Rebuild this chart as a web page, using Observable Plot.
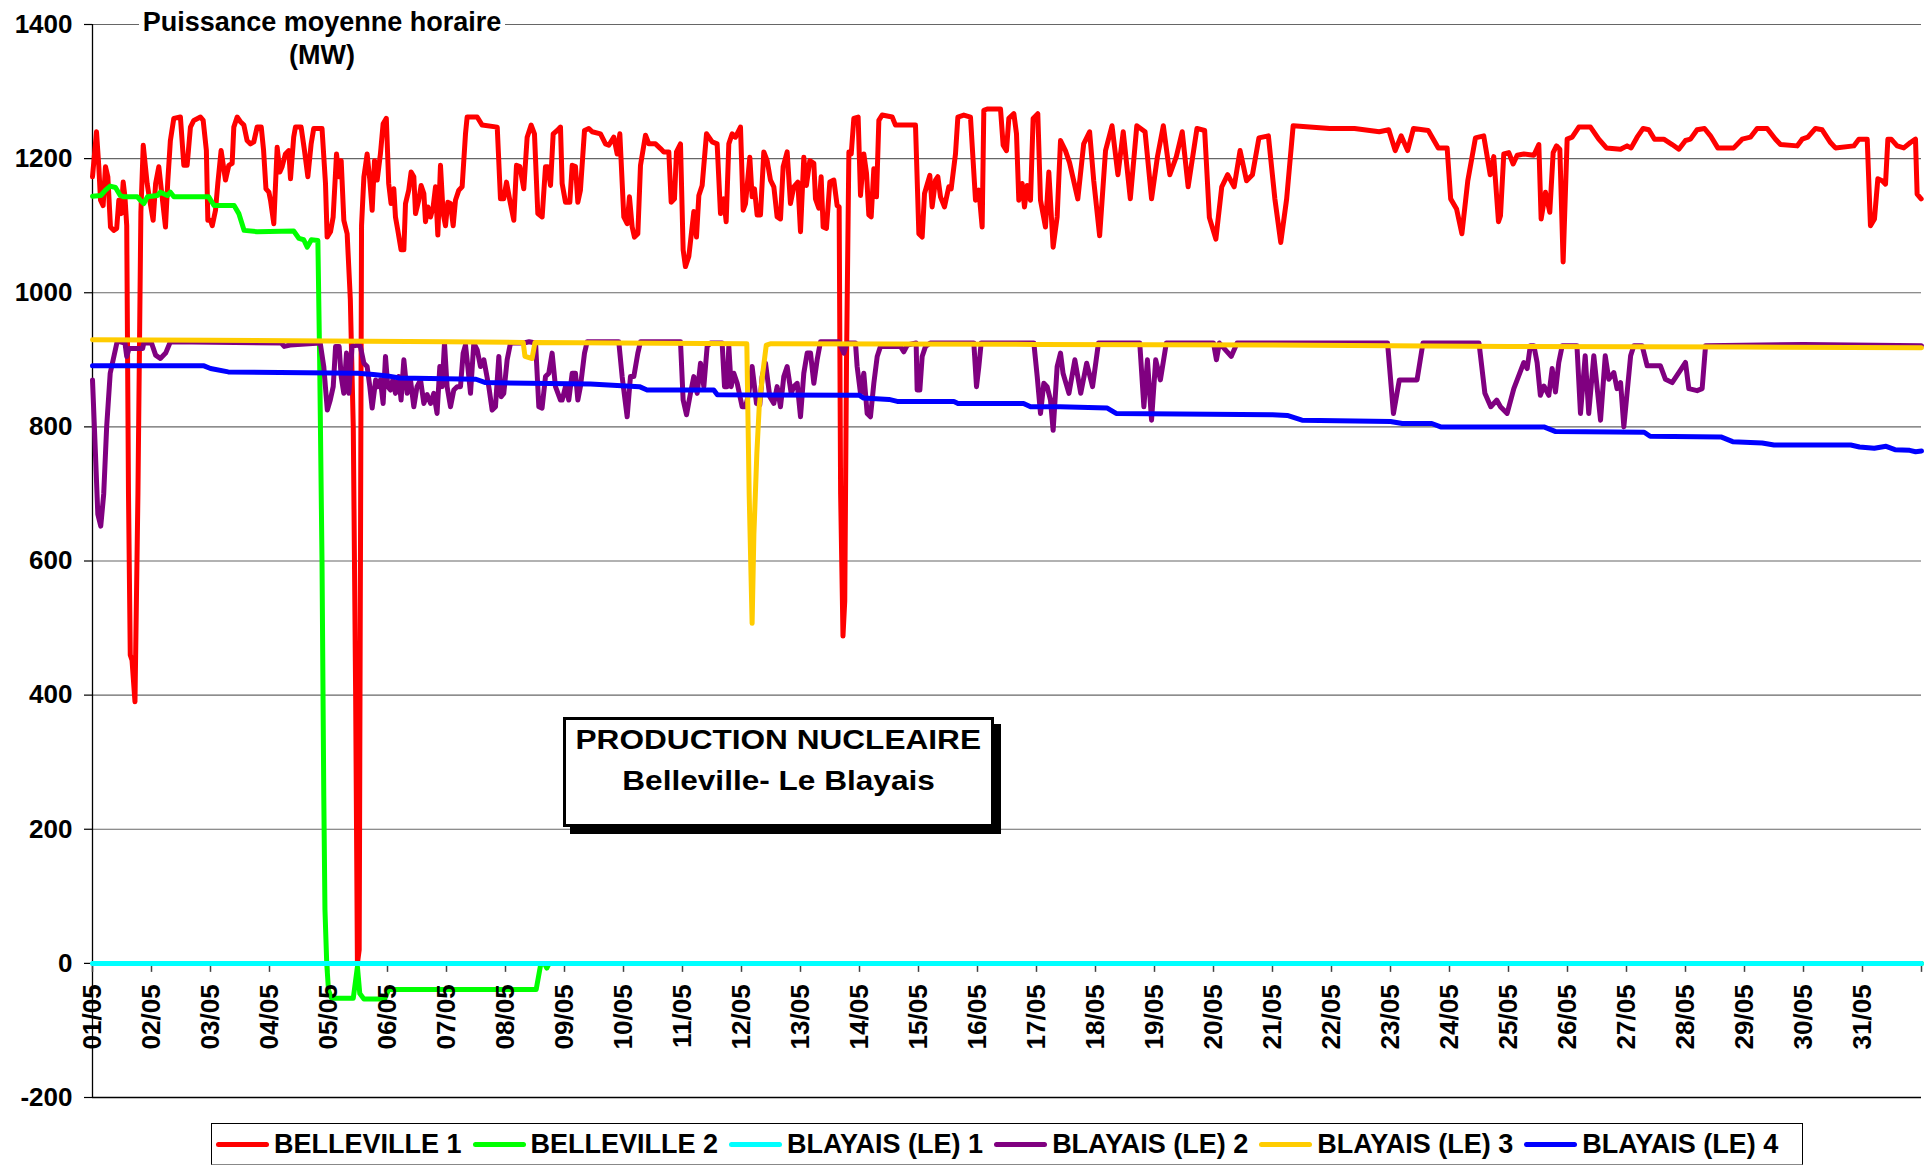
<!DOCTYPE html>
<html>
<head>
<meta charset="utf-8">
<script src="https://cdn.jsdelivr.net/npm/d3@7"></script>
<script src="https://cdn.jsdelivr.net/npm/@observablehq/plot@0.6"></script>
<style>
  body { margin: 0; background: #fff; font-family: "Liberation Sans", Arial, sans-serif; }
  #wrap { position: relative; width: 1930px; height: 1165px; overflow: hidden; }
  #title { position: absolute; left: 139px; top: 6px; width: 366px; text-align: center; background: #fff;
           font-weight: bold; font-size: 27px; line-height: 33px; color: #000; }
  #box { position: absolute; left: 563px; top: 717px; width: 431px; height: 110px; box-sizing: border-box;
         border: 3px solid #000; background: #fff; box-shadow: 7px 7px 0 #000; text-align: center;
         font-weight: bold; font-size: 27px; line-height: 41px; color: #000; }
  #box span { display: inline-block; transform: scaleX(1.17); }
  #legend { position: absolute; left: 211px; top: 1123px; width: 1592px; height: 42px; box-sizing: border-box;
            border: 1.5px solid #000; border-bottom-color: #888; background: #fff; display: flex; align-items: center;
            padding-left: 4px; gap: 11px; }
  .item { display: flex; align-items: center; font-weight: bold; font-size: 27px; color: #000; white-space: nowrap; }
  .sw { width: 53px; height: 5px; border-radius: 3px; margin-right: 5px; }
</style>
</head>
<body>
<div id="wrap">
  <div id="chart"></div>
  <div id="title">Puissance moyenne horaire<br>(MW)</div>
  <div id="box"><span>PRODUCTION NUCLEAIRE</span><br><span>Belleville- Le Blayais</span></div>
  <div id="legend"></div>
</div>
<script>
// ---- tick labels ----
const dayLabels = ["01/05","02/05","03/05","04/05","05/05","06/05","07/05","08/05","09/05","10/05",
  "11/05","12/05","13/05","14/05","15/05","16/05","17/05","18/05","19/05","20/05",
  "21/05","22/05","23/05","24/05","25/05","26/05","27/05","28/05","29/05","30/05","31/05"];
const dayTicks = [0,1,2,3,4,5,6,7,8,9,10,11,12,13,14,15,16,17,18,19,20,21,22,23,24,25,26,27,28,29,30,31];
const yTicks = [-200,0,200,400,600,800,1000,1200,1400];
const gridValues = [200,400,600,800,1000,1200,1400];

// ---- series names and colours ----
const seriesNames = ["BELLEVILLE 1","BELLEVILLE 2","BLAYAIS (LE) 1","BLAYAIS (LE) 2","BLAYAIS (LE) 3","BLAYAIS (LE) 4"];
const seriesColors = ["#ff0000","#00ff00","#00ffff","#800080","#ffcc00","#0000ff"];

// ---- series values: [day since 01/05 00:00, MW] ----
const belleville1 = [
[0,1173],[0.068,1240],[0.107,1188],[0.136,1138],[0.18,1130],[0.22,1188],[0.26,1173],[0.305,1098],[0.36,1093],[0.41,1096],
[0.446,1138],[0.486,1118],[0.52,1165],[0.55,1143],[0.58,1100],[0.61,700],[0.64,460],[0.67,452],[0.72,390],[0.77,700],[0.82,1120],[0.86,1220],
[0.926,1163],[0.97,1138],[1.028,1108],[1.07,1163],[1.124,1188],[1.18,1143],[1.237,1098],[1.277,1168],[1.32,1227],[1.378,1260],
[1.49,1262],[1.548,1190],[1.604,1190],[1.66,1247],[1.717,1257],[1.83,1262],[1.876,1257],[1.93,1212],[1.955,1108],[2.0,1108],
[2.03,1100],[2.085,1123],[2.124,1163],[2.18,1212],[2.254,1168],[2.31,1190],[2.367,1193],[2.395,1247],[2.452,1262],[2.508,1255],
[2.565,1250],[2.62,1227],[2.678,1222],[2.734,1225],[2.79,1247],[2.86,1247],[2.9,1212],[2.94,1155],[2.99,1150],[3.017,1138],
[3.073,1103],[3.13,1217],[3.175,1180],[3.214,1188],[3.27,1207],[3.327,1212],[3.356,1170],[3.41,1232],[3.44,1247],[3.536,1247],
[3.593,1212],[3.65,1173],[3.706,1222],[3.75,1245],[3.89,1245],[3.949,1163],[3.977,1083],[4.034,1091],[4.079,1113],[4.136,1207],
[4.175,1173],[4.215,1197],[4.26,1108],[4.316,1088],[4.37,990],[4.42,800],[4.46,400],[4.49,0],[4.52,20],[4.56,1100],[4.6,1173],
[4.655,1207],[4.7,1168],[4.74,1123],[4.78,1197],[4.825,1168],[4.88,1207],[4.926,1252],[4.98,1260],[5.02,1163],[5.06,1133],
[5.107,1155],[5.135,1113],[5.175,1093],[5.23,1064],[5.277,1064],[5.305,1133],[5.36,1153],[5.4,1180],[5.446,1173],[5.475,1118],
[5.53,1138],[5.57,1160],[5.616,1148],[5.644,1106],[5.684,1128],[5.73,1113],[5.774,1128],[5.814,1158],[5.853,1086],[5.898,1190],
[5.943,1118],[5.983,1100],[6.022,1135],[6.067,1133],[6.113,1100],[6.152,1138],[6.209,1153],[6.265,1158],[6.322,1237],[6.35,1262],
[6.52,1262],[6.604,1250],[6.86,1247],[6.915,1140],[6.97,1140],[7.017,1165],[7.073,1138],[7.141,1108],[7.186,1190],[7.243,1188],
[7.31,1155],[7.367,1232],[7.435,1250],[7.491,1237],[7.548,1118],[7.621,1113],[7.678,1188],[7.717,1188],[7.763,1160],[7.808,1237],
[7.876,1242],[7.932,1247],[7.96,1163],[8.017,1135],[8.09,1135],[8.13,1190],[8.186,1188],[8.226,1135],[8.27,1153],[8.339,1242],
[8.412,1245],[8.469,1240],[8.61,1237],[8.695,1222],[8.751,1220],[8.836,1232],[8.893,1207],[8.938,1237],[9.005,1113],[9.062,1103],
[9.101,1143],[9.147,1098],[9.186,1083],[9.243,1088],[9.288,1190],[9.373,1235],[9.43,1222],[9.542,1222],[9.627,1215],[9.683,1210],
[9.768,1210],[9.808,1135],[9.864,1140],[9.898,1210],[9.966,1222],[10.011,1064],[10.05,1039],[10.107,1054],[10.192,1121],[10.237,1083],
[10.277,1145],[10.333,1160],[10.407,1237],[10.503,1225],[10.587,1222],[10.644,1118],[10.7,1140],[10.74,1106],[10.785,1222],[10.842,1237],
[10.898,1232],[10.983,1247],[11.028,1123],[11.068,1133],[11.141,1202],[11.18,1143],[11.22,1155],[11.265,1116],[11.322,1116],[11.378,1210],
[11.435,1197],[11.491,1168],[11.548,1158],[11.604,1113],[11.661,1110],[11.706,1188],[11.774,1210],[11.83,1133],[11.887,1158],[11.955,1165],
[12.0,1091],[12.056,1202],[12.1,1160],[12.158,1197],[12.226,1193],[12.254,1140],[12.31,1126],[12.35,1173],[12.384,1098],[12.44,1096],
[12.497,1165],[12.565,1168],[12.621,1130],[12.655,1128],[12.68,700],[12.72,488],[12.75,540],[12.78,900],[12.82,1210],[12.86,1207],
[12.904,1260],[12.977,1262],[13.017,1145],[13.073,1207],[13.119,1178],[13.158,1116],[13.198,1113],[13.243,1185],[13.288,1143],[13.328,1257],
[13.384,1265],[13.554,1262],[13.61,1250],[13.949,1250],[14.006,1088],[14.062,1083],[14.102,1148],[14.192,1175],[14.231,1128],[14.288,1168],
[14.328,1173],[14.373,1143],[14.44,1128],[14.514,1158],[14.554,1155],[14.627,1207],[14.667,1262],[14.768,1265],[14.881,1262],[14.966,1138],
[15.023,1153],[15.079,1098],[15.107,1272],[15.164,1274],[15.39,1274],[15.435,1220],[15.491,1212],[15.531,1260],[15.616,1267],[15.661,1237],
[15.7,1138],[15.757,1163],[15.796,1128],[15.842,1160],[15.898,1138],[15.943,1260],[16.022,1267],[16.068,1138],[16.152,1098],[16.209,1180],
[16.282,1068],[16.35,1113],[16.407,1227],[16.49,1212],[16.56,1194],[16.7,1140],[16.8,1222],[16.9,1240],[16.97,1167],[17.07,1085],
[17.17,1212],[17.28,1249],[17.38,1176],[17.47,1240],[17.59,1140],[17.7,1249],[17.84,1240],[17.95,1140],[18.05,1203],[18.15,1249],
[18.26,1176],[18.37,1203],[18.47,1240],[18.57,1158],[18.72,1245],[18.85,1242],[18.93,1112],[19.04,1080],[19.14,1158],[19.24,1176],
[19.35,1158],[19.45,1212],[19.56,1167],[19.66,1176],[19.77,1231],[19.93,1234],[20.04,1140],[20.14,1075],[20.24,1140],[20.35,1249],
[20.97,1245],[21.39,1245],[21.81,1240],[21.97,1243],[22.08,1212],[22.18,1234],[22.29,1212],[22.39,1245],[22.64,1242],[22.81,1216],
[22.96,1216],[23.02,1140],[23.12,1125],[23.21,1088],[23.31,1167],[23.44,1231],[23.58,1234],[23.69,1176],[23.75,1203],[23.83,1106],
[23.864,1115],[23.92,1207],[24.005,1209],[24.079,1192],[24.147,1205],[24.26,1207],[24.43,1205],[24.514,1221],[24.553,1110],[24.627,1150],
[24.7,1120],[24.757,1209],[24.813,1219],[24.87,1214],[24.926,1046],[24.994,1229],[25.079,1232],[25.192,1247],[25.39,1247],[25.53,1229],
[25.66,1216],[25.898,1214],[26.01,1219],[26.079,1216],[26.18,1232],[26.282,1245],[26.378,1243],[26.474,1229],[26.632,1229],[26.774,1221],
[26.887,1214],[27.0,1227],[27.084,1229],[27.197,1243],[27.322,1245],[27.423,1234],[27.547,1216],[27.819,1216],[27.96,1229],[28.1,1232],
[28.214,1245],[28.384,1245],[28.525,1229],[28.61,1221],[28.892,1219],[28.977,1229],[29.073,1232],[29.203,1245],[29.316,1243],[29.457,1224],
[29.542,1216],[29.853,1219],[29.938,1229],[30.08,1229],[30.135,1100],[30.203,1110],[30.26,1170],[30.333,1167],[30.39,1162],[30.43,1229],
[30.486,1229],[30.587,1219],[30.7,1216],[30.813,1224],[30.898,1229],[30.926,1147],[30.994,1140]
];

const belleville2 = [
[0,1144],[0.14,1145],[0.22,1153],[0.3,1159],[0.39,1157],[0.47,1145],[0.53,1143],[0.76,1143],[0.81,1138],[0.87,1133],
[0.93,1143],[1.1,1145],[1.15,1150],[1.27,1145],[1.32,1150],[1.38,1143],[1.97,1143],[2.06,1130],[2.4,1130],[2.48,1118],
[2.57,1093],[2.79,1091],[3.41,1092],[3.5,1081],[3.58,1079],[3.64,1068],[3.71,1079],[3.82,1078],[3.85,900],[3.89,600],
[3.92,250],[3.94,80],[3.97,0],[4.0,-40],[4.05,-52],[4.42,-52],[4.49,-5],[4.53,-45],[4.6,-53],[4.95,-53],
[5.02,-39],[7.52,-39],[7.6,0],[7.66,0],[7.7,-7],[7.74,0],[31,0]
];

const blayais1 = [[0,0],[31,0]];

const blayais2 = [
[0,870],[0.05,760],[0.09,670],[0.14,652],[0.19,700],[0.24,800],[0.3,880],[0.42,928],[0.55,925],[0.58,905],
[0.62,917],[0.85,917],[0.87,925],[1.0,925],[1.07,907],[1.15,902],[1.24,910],[1.32,927],[3.2,925],[3.25,920],
[3.35,922],[3.86,925],[3.92,890],[3.98,825],[4.03,840],[4.08,860],[4.12,920],[4.18,920],[4.215,875],[4.26,850],
[4.305,910],[4.345,850],[4.4,920],[4.49,922],[4.54,920],[4.6,895],[4.655,890],[4.7,860],[4.74,828],[4.8,870],
[4.836,860],[4.88,870],[4.926,835],[4.966,905],[5.005,860],[5.05,855],[5.09,870],[5.135,850],[5.19,875],[5.23,840],
[5.277,900],[5.333,850],[5.39,870],[5.446,830],[5.5,860],[5.56,870],[5.616,835],[5.672,848],[5.73,835],[5.785,850],
[5.84,820],[5.887,890],[5.926,860],[5.966,925],[6.01,860],[6.068,830],[6.124,855],[6.18,860],[6.237,860],[6.282,910],
[6.322,922],[6.361,890],[6.407,850],[6.463,925],[6.52,915],[6.576,890],[6.633,900],[6.717,860],[6.774,825],[6.83,830],
[6.887,905],[6.926,845],[6.971,850],[7.028,900],[7.085,925],[7.31,925],[7.4,927],[7.51,925],[7.565,830],[7.62,828],
[7.678,875],[7.734,880],[7.79,910],[7.847,860],[7.932,840],[7.96,840],[8.017,860],[8.073,840],[8.13,880],[8.186,880],
[8.226,840],[8.27,860],[8.339,910],[8.384,927],[8.92,927],[8.977,875],[9.062,815],[9.118,875],[9.175,875],[9.243,910],
[9.288,927],[9.966,927],[10.011,840],[10.068,818],[10.135,850],[10.192,875],[10.249,850],[10.305,895],[10.362,860],[10.418,920],
[10.475,925],[10.672,925],[10.712,860],[10.757,860],[10.785,920],[10.825,860],[10.87,880],[10.927,865],[11.011,830],[11.068,830],
[11.124,850],[11.18,890],[11.254,835],[11.31,833],[11.35,875],[11.407,895],[11.48,845],[11.548,835],[11.604,860],[11.661,830],
[11.717,875],[11.774,890],[11.842,850],[11.887,860],[11.944,865],[12.0,815],[12.056,880],[12.113,910],[12.17,910],[12.226,865],
[12.282,900],[12.339,927],[12.65,927],[12.734,910],[12.79,925],[12.932,925],[12.96,890],[13.017,850],[13.073,880],[13.13,820],
[13.186,815],[13.243,865],[13.3,905],[13.356,920],[13.695,920],[13.75,912],[13.81,922],[13.96,925],[13.977,855],[14.023,855],
[14.062,905],[14.119,920],[14.2,925],[14.938,925],[14.983,860],[15.023,890],[15.062,925],[15.955,925],[16.012,875],[16.068,820],
[16.124,865],[16.18,860],[16.237,840],[16.282,795],[16.35,890],[16.407,910],[16.45,880],[16.55,850],[16.65,900],[16.75,850],
[16.85,895],[16.95,860],[17.05,925],[17.75,925],[17.82,830],[17.88,900],[17.95,810],[18.02,900],[18.1,870],[18.2,925],
[19.0,925],[19.05,900],[19.1,925],[19.3,905],[19.4,925],[21.95,925],[22.05,820],[22.15,870],[22.45,870],[22.55,925],
[23.5,925],[23.6,850],[23.7,830],[23.8,840],[23.864,830],[23.977,820],[24.09,857],[24.26,896],[24.316,887],[24.37,921],
[24.43,921],[24.485,896],[24.54,847],[24.6,861],[24.683,847],[24.74,887],[24.796,852],[24.852,896],[24.91,921],[25.16,921],
[25.22,820],[25.3,906],[25.36,820],[25.446,906],[25.56,810],[25.64,906],[25.7,871],[25.785,881],[25.84,857],[25.9,866],
[25.955,800],[26.07,906],[26.124,921],[26.265,921],[26.35,891],[26.575,891],[26.66,871],[26.774,866],[26.887,881],[27.0,896],
[27.056,857],[27.197,854],[27.282,857],[27.34,921],[29,923],[31,921]
];

const blayais3 = [
[0,930],[2,929],[4,928],[6,927],[7.3,926],[7.33,905],[7.45,902],[7.5,926],[11.09,924],[11.13,700],
[11.18,507],[11.21,640],[11.26,760],[11.3,830],[11.36,880],[11.42,922],[11.5,924],[16,923],[20,922],[24,920],
[28,919],[31,918]
];

const blayais4 = [
[0,891],[1.89,891],[2.0,887],[2.3,882],[4.5,880],[4.76,878],[5.0,876],[5.2,873],[6.5,871],[6.66,866],
[8.44,864],[9.27,860],[9.4,855],[10.53,855],[10.59,848],[13.0,847],[13.07,843],[13.5,841],[13.64,838],[14.6,838],
[14.67,835],[15.78,835],[15.9,830],[16.4,830],[17.2,828],[17.35,820],[20.0,818],[20.25,817],[20.5,810],[22.0,808],
[22.2,805],[22.7,805],[22.85,800],[24.6,800],[24.8,793],[26.3,792],[26.4,786],[27.6,785],[27.8,778],[28.3,776],
[28.5,773],[29.8,773],[29.95,770],[30.2,768],[30.4,771],[30.55,766],[30.8,765],[30.9,763],[31,764]
];

const seriesData = [belleville1, belleville2, blayais1, blayais2, blayais3, blayais4];

// ---- chart ----
const lineMarks = seriesData.map((data, i) =>
  Plot.line(data, {x: d => d[0], y: d => d[1], stroke: seriesColors[i], strokeWidth: 5,
                   strokeLinejoin: "round", strokeLinecap: "round"}));

const chart = Plot.plot({
  width: 1930,
  height: 1112,
  marginLeft: 92,
  marginRight: 9,
  marginTop: 24,
  marginBottom: 15,
  style: {fontFamily: "'Liberation Sans', Arial, sans-serif", fontWeight: "bold", background: "#fff", overflow: "visible", color: "#000"},
  x: {domain: [0, 31], axis: null},
  y: {domain: [-200, 1400]},
  marks: [
    Plot.gridY(gridValues, {stroke: "#000", strokeOpacity: 0.6, strokeWidth: 1.2}),
    Plot.ruleY([-200], {stroke: "#000", strokeWidth: 1.3}),
    Plot.ruleX([0], {y1: -200, y2: 1400, stroke: "#000", strokeWidth: 1.3}),
    Plot.axisY(yTicks, {tickSize: 8, tickPadding: 12, tickFormat: d => String(d), fontSize: 26, fontWeight: "bold", strokeWidth: 1.2}),
    Plot.ruleX(dayTicks, {x: d => d, y1: 0, y2: 0, insetBottom: -9, stroke: "#444", strokeWidth: 1.5}),
    ...lineMarks,
    Plot.text(dayLabels, {x: (d, i) => i, y: 0, text: d => d, rotate: -90, textAnchor: "end", dy: 21,
                          fontSize: 26, fontWeight: "bold", fill: "#000"})
  ]
});
document.getElementById("chart").appendChild(chart);

// ---- legend ----
const legend = document.getElementById("legend");
seriesNames.forEach((name, i) => {
  const item = document.createElement("div");
  item.className = "item";
  const sw = document.createElement("span");
  sw.className = "sw";
  sw.style.background = seriesColors[i];
  item.appendChild(sw);
  item.appendChild(document.createTextNode(name));
  legend.appendChild(item);
});
</script>
</body>
</html>
